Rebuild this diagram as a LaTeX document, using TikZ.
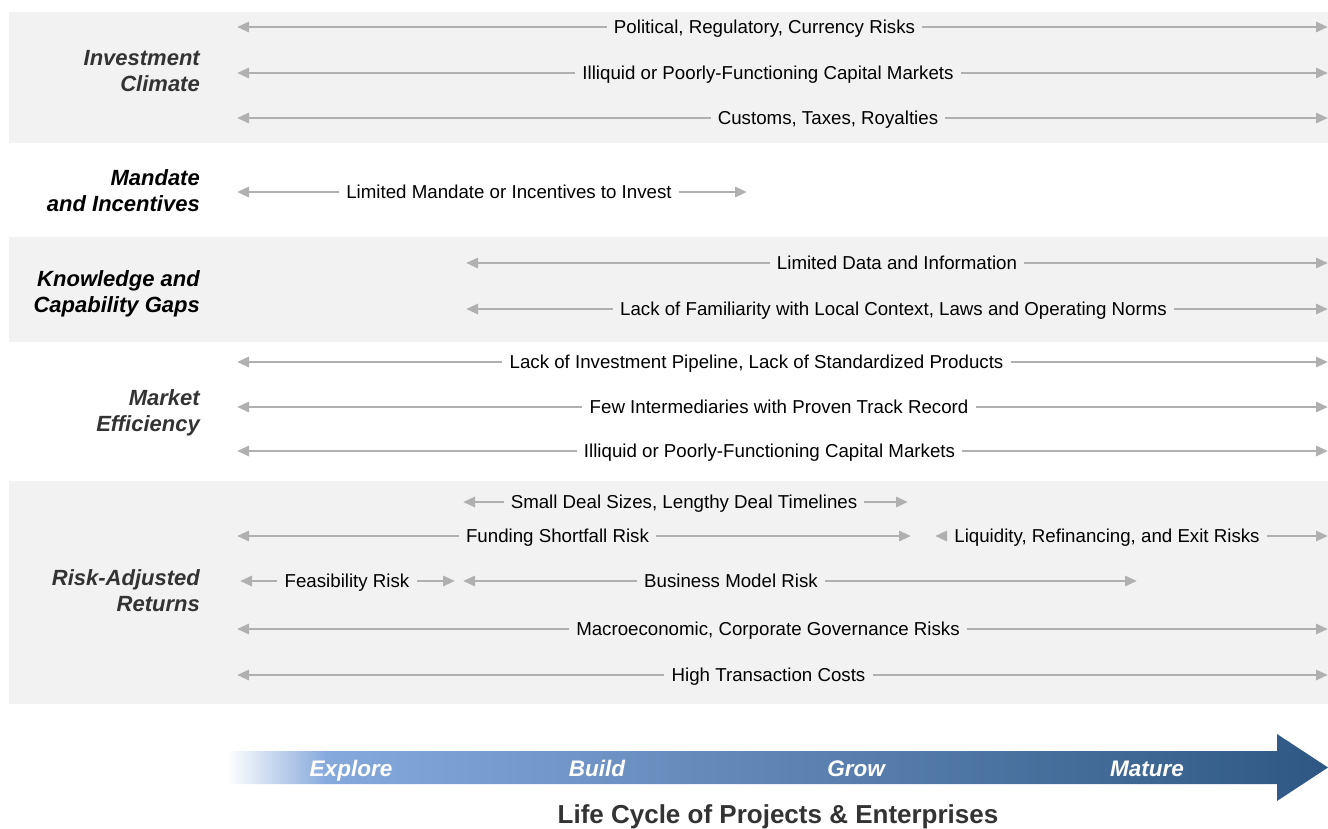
\documentclass[tikz,border=0pt]{standalone}
\usepackage{fontspec}
\setmainfont{Liberation Sans}
\usetikzlibrary{arrows.meta}
\definecolor{band}{HTML}{F2F2F2}
\definecolor{arrgray}{HTML}{B0B0B0}
\definecolor{lblgray}{HTML}{333333}
\definecolor{blueA}{HTML}{86A9DC}
\definecolor{blueB}{HTML}{2E5883}
\pgfdeclarehorizontalshading{lifecycle}{100bp}{color(0bp)=(white); color(25bp)=(white); color(29.5bp)=(blueA); color(75bp)=(blueB); color(100bp)=(blueB)}
\tikzset{
  ar/.style={draw=arrgray, line width=2.8pt, -{Triangle[length=12pt,width=10pt]}},
  txt/.style={font=\fontsize{18.7}{22}\selectfont, text=black, inner xsep=7pt, inner ysep=0pt, text height=13.5pt, text depth=0pt},
  cat/.style={font=\fontsize{22}{26}\selectfont\bfseries\itshape, align=right, anchor=east, inner sep=0pt},
  stage/.style={font=\fontsize{22.5}{26}\selectfont\bfseries\itshape, text=white, inner sep=0pt, text height=16pt, text depth=0pt},
  bandbox/.style={fill=band, draw=none}
}
\newcommand\arow[6]{%
  \node[txt] (#6) at (#4,#1) {#5};
  \coordinate (#6L) at (#2,#1);
  \coordinate (#6R) at (#3,#1);
  \draw[ar] (#6.west) -- (#6L);
  \draw[ar] (#6.east) -- (#6R);
}
\begin{document}
\begin{tikzpicture}[x=1pt,y=-1pt]
\useasboundingbox (0,0) rectangle (1328,828);
\fill[white] (0,0) rectangle (1328,828);
% bands
\path[bandbox] (9,12) rectangle (1328,143);
\path[bandbox] (9,237) rectangle (1328,342);
\path[bandbox] (9,481) rectangle (1328,704);
% category labels
\node[cat, text=lblgray] (c1) at (200,71) {Investment\\Climate};
\node[cat, text=black] (c2) at (200,191) {Mandate\\and Incentives};
\node[cat, text=black] (c3) at (200,294) {Knowledge and\\Capability Gaps};
\node[cat, text=lblgray] (c4) at (200,413) {Market\\Efficiency};
\node[cat, text=lblgray] (c5) at (200,591) {Risk-Adjusted\\Returns};
% rows
\arow{27}{237}{1328}{764.5}{Political, Regulatory, Currency Risks}{t1}
\arow{73}{237}{1328}{768}{Illiquid or Poorly-Functioning Capital Markets}{t2}
\arow{118}{237}{1328}{828}{Customs, Taxes, Royalties}{t3}
\arow{192}{237}{747}{509}{Limited Mandate or Incentives to Invest}{t4}
\arow{263}{466}{1328}{897}{Limited Data and Information}{t5}
\arow{309}{466}{1328}{893.5}{Lack of Familiarity with Local Context, Laws and Operating Norms}{t6}
\arow{362}{237}{1328}{756.5}{Lack of Investment Pipeline, Lack of Standardized Products}{t7}
\arow{407}{237}{1328}{779}{Few Intermediaries with Proven Track Record}{t8}
\arow{451}{237}{1328}{769.5}{Illiquid or Poorly-Functioning Capital Markets}{t9}
\arow{502}{463}{908}{684}{Small Deal Sizes, Lengthy Deal Timelines}{t10}
\arow{536}{237}{911}{557.5}{Funding Shortfall Risk}{t11}
\arow{536}{935}{1328}{1107}{Liquidity, Refinancing, and Exit Risks}{t12}
\arow{581}{240}{455}{347}{Feasibility Risk}{t13}
\arow{581}{463}{1137}{731}{Business Model Risk}{t14}
\arow{629}{237}{1328}{768}{Macroeconomic, Corporate Governance Risks}{t15}
\arow{675}{237}{1328}{768.5}{High Transaction Costs}{t16}
% life cycle arrow
\path[shading=lifecycle, draw=none]
  (227,751) -- (1277,751) -- (1277,734) -- (1328,767.5) -- (1277,801) -- (1277,784) -- (227,784) -- cycle;
\node[stage] (s1) at (351,768) {Explore};
\node[stage] (s2) at (597,768) {Build};
\node[stage] (s3) at (856,768) {Grow};
\node[stage] (s4) at (1147,768) {Mature};
\node[font=\fontsize{26}{30}\selectfont\bfseries, text=lblgray, inner sep=0pt, text height=19pt, text depth=0pt] (title) at (778,814) {Life Cycle of Projects \& Enterprises};
\end{tikzpicture}
\end{document}
